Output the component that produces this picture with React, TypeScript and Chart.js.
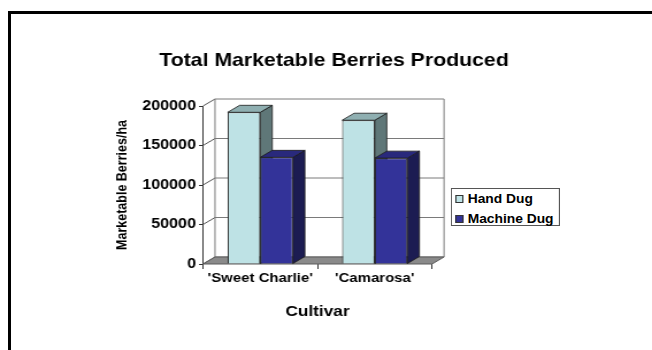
import React, { useEffect, useRef } from 'react';
import { Chart, registerables } from 'chart.js';

Chart.register(...registerables);

// ---- data ----
const categories = ["'Sweet Charlie'", "'Camarosa'"];
const seriesNames = ['Hand Dug', 'Machine Dug'];
const handDug = [192000, 182000];
const machineDug = [135000, 134000];
const yTicks = [0, 50000, 100000, 150000, 200000];

const chartTitle = 'Total Marketable Berries Produced';
const yTitle = 'Marketable Berries/ha';
const xTitle = 'Cultivar';

// ---- layout / style ----
const W = 567;
const H = 350;
const S = 652 / W; // horizontal stretch of the original picture
const FONT = '"Liberation Sans", Arial, Helvetica, sans-serif';
const PL = 13.9;
const AREA_LEFT = 203 / S;
const AREA_RIGHT = 432 / S;
const AREA_BOTTOM = 264;
const DX = 12 / S;
const DY = -7;

const faces = [
  { front: '#BEE2E5', top: '#8FAFB1', side: '#5F7778' },
  { front: '#333399', top: '#29297C', side: '#1C1C52' },
];

const threeD = {
  id: 'threeD',
  beforeDatasetsDraw(chart: any) {
    const { ctx, chartArea } = chart;
    const { left, right, bottom } = chartArea;
    const y = chart.scales.y;
    const bl = left + DX;
    const br = right + DX;
    const yt = y.getPixelForValue(y.max) + DY;
    const yb = bottom + DY;
    ctx.save();
    // back wall
    ctx.fillStyle = '#ffffff';
    ctx.fillRect(bl, yt, br - bl, yb - yt);
    ctx.lineWidth = 1;
    ctx.strokeStyle = '#7a7a7a';
    yTicks.forEach((v) => {
      const py = y.getPixelForValue(v);
      ctx.beginPath();
      ctx.moveTo(bl, py + DY);
      ctx.lineTo(br, py + DY);
      ctx.stroke();
      ctx.strokeStyle = '#555';
      ctx.beginPath();
      ctx.moveTo(left, py);
      ctx.lineTo(bl, py + DY);
      ctx.stroke();
      ctx.strokeStyle = '#7a7a7a';
    });
    ctx.beginPath();
    ctx.moveTo(bl, yt);
    ctx.lineTo(bl, yb);
    ctx.moveTo(br, yt);
    ctx.lineTo(br, yb);
    ctx.stroke();
    // floor
    ctx.beginPath();
    ctx.moveTo(left, bottom);
    ctx.lineTo(right, bottom);
    ctx.lineTo(br, yb);
    ctx.lineTo(bl, yb);
    ctx.closePath();
    ctx.fillStyle = '#8a8a8a';
    ctx.fill();
    ctx.strokeStyle = '#5a5a5a';
    ctx.stroke();
    // bar sides and tops
    ctx.lineWidth = 0.8;
    ctx.strokeStyle = '#1a1a1a';
    const metas = chart.data.datasets.map((_: any, i: number) => chart.getDatasetMeta(i));
    categories.forEach((_, ci) => {
      metas.forEach((meta: any, di: number) => {
        const el = meta.data[ci];
        if (!el) return;
        const { x, y: top, base, width } = el.getProps(['x', 'y', 'base', 'width'], true);
        const l = x - width / 2;
        const r = x + width / 2;
        // side
        ctx.beginPath();
        ctx.moveTo(r, top);
        ctx.lineTo(r + DX, top + DY);
        ctx.lineTo(r + DX, base + DY);
        ctx.lineTo(r, base);
        ctx.closePath();
        ctx.fillStyle = faces[di].side;
        ctx.fill();
        ctx.stroke();
        // top
        ctx.beginPath();
        ctx.moveTo(l, top);
        ctx.lineTo(l + DX, top + DY);
        ctx.lineTo(r + DX, top + DY);
        ctx.lineTo(r, top);
        ctx.closePath();
        ctx.fillStyle = faces[di].top;
        ctx.fill();
        ctx.stroke();
      });
    });
    ctx.restore();
  },
};

export default function App() {
  const ref = useRef<HTMLCanvasElement>(null);

  useEffect(() => {
    const chart = new Chart(ref.current as HTMLCanvasElement, {
      type: 'bar',
      data: {
        labels: categories,
        datasets: [
          {
            label: seriesNames[0],
            data: handDug,
            backgroundColor: faces[0].front,
            borderColor: '#222',
            borderWidth: 1,
            barPercentage: 1,
            categoryPercentage: 0.57,
          },
          {
            label: seriesNames[1],
            data: machineDug,
            backgroundColor: faces[1].front,
            borderColor: '#222',
            borderWidth: 1,
            barPercentage: 1,
            categoryPercentage: 0.57,
          },
        ],
      },
      options: {
        responsive: false,
        animation: false,
        devicePixelRatio: 1,
        layout: { padding: { left: PL, right: 0, top: 0, bottom: 0 } },
        plugins: {
          legend: { display: false },
          tooltip: { enabled: false },
          title: {
            display: true,
            text: chartTitle,
            color: '#000',
            font: { family: FONT, size: 18.5, weight: 'bold' },
            padding: { top: 49.4, bottom: 34.4 },
          },
        },
        scales: {
          x: {
            afterFit: (s: any) => {
              s.height = H - AREA_BOTTOM;
            },
            grid: { display: true, drawOnChartArea: false, drawTicks: true, tickLength: 5, color: '#333', offset: true },
            border: { display: false },
            ticks: {
              color: '#000',
              font: { family: FONT, size: 13, weight: 'bold' },
              padding: 1.7,
              maxRotation: 0,
              minRotation: 0,
              autoSkip: false,
            },
            title: {
              display: true,
              text: xTitle,
              color: '#000',
              font: { family: FONT, size: 15, weight: 'bold' },
              padding: { top: 0, bottom: 29 },
            },
          },
          y: {
            min: 0,
            max: 200000,
            afterBuildTicks: (s: any) => {
              s.ticks = yTicks.map((v) => ({ value: v }));
            },
            afterFit: (s: any) => {
              s.width = AREA_LEFT - PL;
            },
            grid: { display: true, drawOnChartArea: false, drawTicks: true, tickLength: 3.5, color: '#333' },
            border: { display: true, color: '#333', width: 1 },
            ticks: {
              color: '#000',
              font: { family: FONT, size: 14, weight: 'bold' },
              padding: 2.6,
              callback: (v: any) => String(v),
            },
            title: {
              display: true,
              text: yTitle,
              color: '#000',
              font: { family: FONT, size: 12.5, weight: 'bold' },
              padding: { top: 84.7, bottom: 0 },
            },
          },
          yR: {
            type: 'linear',
            position: 'right',
            display: true,
            grid: { display: false },
            border: { display: false },
            ticks: { display: false },
            afterFit: (s: any) => {
              s.width = W - AREA_RIGHT;
            },
          },
        },
      },
      plugins: [threeD],
    } as any);
    return () => chart.destroy();
  }, []);

  const legendLeft = 451 / S;
  const legendWidth = (560 - 451) / S;

  return (
    <div style={{ position: 'fixed', left: 0, top: 0, width: 652, height: 350, overflow: 'hidden', background: '#fff' }}>
      <div
        style={{
          position: 'absolute',
          left: 8,
          top: 11,
          width: 700,
          height: 400,
          border: '3px solid #000',
        }}
      />
      <div
        style={{
          position: 'absolute',
          left: 0,
          top: 0,
          width: W,
          height: H,
          transform: `scaleX(${S})`,
          transformOrigin: '0 0',
        }}
      >
        <canvas ref={ref} width={W} height={H} style={{ display: 'block', width: W, height: H }} />
        <div
          style={{
            position: 'absolute',
            left: legendLeft,
            top: 188,
            width: legendWidth,
            height: 38,
            boxSizing: 'border-box',
            border: '1px solid #555',
            background: '#fff',
            fontFamily: FONT,
            fontWeight: 'bold',
            fontSize: 12,
            color: '#000',
          }}
        >
          {seriesNames.map((name, i) => (
            <div key={name}>
              <div
                style={{
                  position: 'absolute',
                  left: 2.5,
                  top: 10 + i * 20 - 4,
                  width: 7,
                  height: 8,
                  boxSizing: 'border-box',
                  border: '1px solid #333',
                  background: faces[i].front,
                }}
              />
              <div
                style={{
                  position: 'absolute',
                  left: 13.5,
                  top: 10 + i * 20 - 7,
                  height: 14,
                  lineHeight: '14px',
                  whiteSpace: 'nowrap',
                }}
              >
                {name}
              </div>
            </div>
          ))}
        </div>
      </div>
    </div>
  );
}
